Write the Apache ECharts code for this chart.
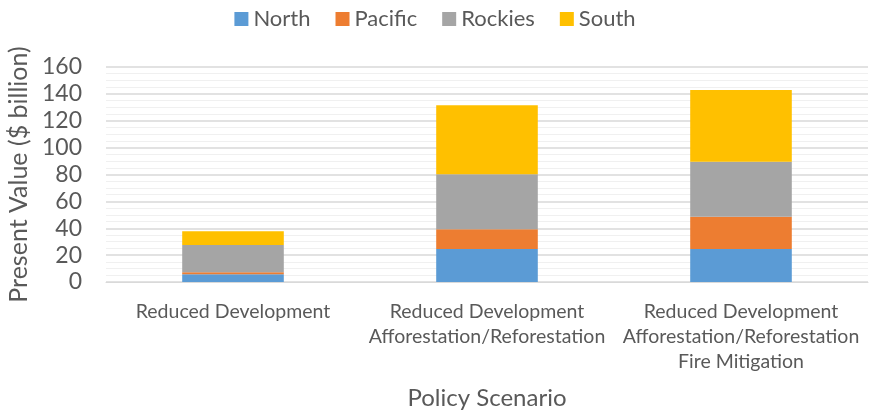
<!DOCTYPE html>
<html>
<head>
<meta charset="utf-8">
<script src="https://cdn.jsdelivr.net/npm/echarts@6/dist/echarts.min.js"></script>
<style>
  html, body { margin: 0; padding: 0; background: #fff; }
  #chart { width: 870px; height: 412px; }
</style>
</head>
<body>
<div id="chart"></div>
<script>
var scenarios = [
  'Reduced Development',
  'Reduced Development\nAfforestation/Reforestation',
  'Reduced Development\nAfforestation/Reforestation\nFire Mitigation'
];
var north = [5.7, 24.5, 24.5];
var pacific = [1.5, 14.7, 24.1];
var rockies = [20.3, 40.9, 40.9];
var south = [10.2, 51.4, 53.4];

var font = 'Lato, "Open Sans", sans-serif';
var textColor = '#595959';

function bar(name, data, color) {
  return {
    name: name,
    type: 'bar',
    stack: 'total',
    barWidth: '40%',
    itemStyle: { color: color },
    data: data
  };
}

var chart = echarts.init(document.getElementById('chart'));
chart.setOption({
  animation: false,
  textStyle: { fontFamily: font },
  legend: {
    top: 3,
    left: 'center',
    itemWidth: 14,
    itemHeight: 14,
    itemGap: 25,
    icon: 'rect',
    textStyle: { fontSize: 22, color: textColor, fontFamily: font },
    data: ['North', 'Pacific', 'Rockies', 'South']
  },
  grid: { left: 106, right: 2, top: 67, bottom: 130, containLabel: false, outerBoundsMode: 'none' },
  xAxis: {
    type: 'category',
    data: scenarios,
    name: 'Policy Scenario',
    nameLocation: 'middle',
    nameGap: 104,
    nameTextStyle: { fontSize: 24, color: textColor },
    axisLine: { show: true, lineStyle: { color: '#d9d9d9' } },
    axisTick: { show: false },
    axisLabel: { fontSize: 19.5, color: textColor, lineHeight: 25, margin: 17, interval: 0 }
  },
  yAxis: {
    type: 'value',
    min: 0,
    max: 160,
    interval: 20,
    name: 'Present Value ($ billion)',
    nameLocation: 'middle',
    nameGap: 75,
    nameTextStyle: { fontSize: 25, color: textColor },
    axisLine: { show: false },
    axisTick: { show: false },
    axisLabel: { fontSize: 23, color: textColor, margin: 24 },
    splitLine: { lineStyle: { color: '#d9d9d9', width: 1.5 } },
    minorTick: { show: false, splitNumber: 4 },
    minorSplitLine: { show: true, lineStyle: { color: '#f0f0f0', width: 1 } }
  },
  series: [
    bar('North', north, '#5B9BD5'),
    bar('Pacific', pacific, '#ED7D31'),
    bar('Rockies', rockies, '#A5A5A5'),
    bar('South', south, '#FFC000')
  ]
});
</script>
</body>
</html>
